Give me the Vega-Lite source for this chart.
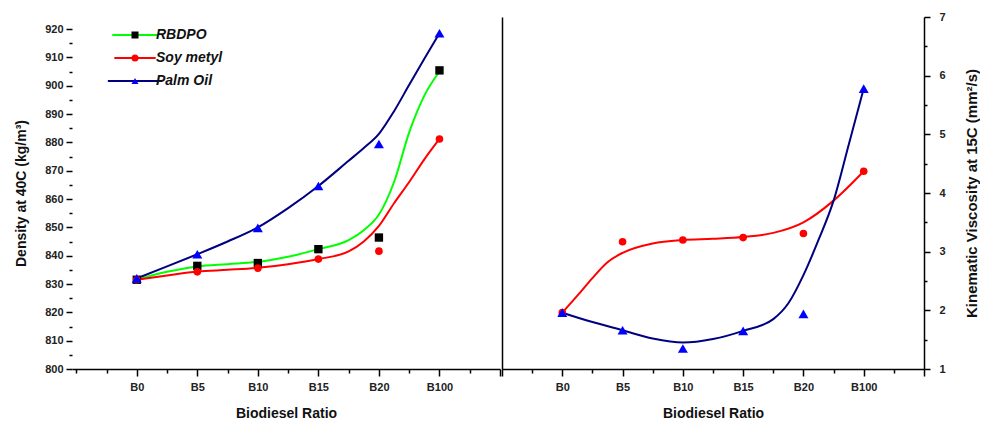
{
  "$schema": "https://vega.github.io/schema/vega-lite/v6.json",
  "background": "white",
  "padding": {"left": 14, "top": 11, "right": 0, "bottom": 0},
  "spacing": 0,
  "config": {
    "view": {"stroke": null, "fill": null},
    "axis": {
      "grid": false,
      "domainColor": "#000",
      "domainWidth": 1.5,
      "tickColor": "#000",
      "tickWidth": 1.5,
      "labelFont": "Liberation Sans",
      "labelFontWeight": "bold",
      "labelFontSize": 11,
      "labelColor": "#222",
      "labelOverlap": false,
      "titleFont": "Liberation Sans",
      "titleFontWeight": "bold",
      "titleFontSize": 14,
      "titleColor": "#111"
    }
  },
  "resolve": {"scale": {"stroke": "independent", "fill": "independent", "shape": "independent", "size": "independent"}},
  "datasets": {
    "densityFit": [
      {"series": "RBDPO", "idx": 1, "value": 831.5},
      {"series": "RBDPO", "idx": 1.5, "value": 834.3},
      {"series": "RBDPO", "idx": 2, "value": 836.2},
      {"series": "RBDPO", "idx": 2.5, "value": 837},
      {"series": "RBDPO", "idx": 3, "value": 837.8},
      {"series": "RBDPO", "idx": 3.5, "value": 839.6},
      {"series": "RBDPO", "idx": 4, "value": 842.3},
      {"series": "RBDPO", "idx": 4.5, "value": 845.5},
      {"series": "RBDPO", "idx": 4.75, "value": 849},
      {"series": "RBDPO", "idx": 5, "value": 854.5},
      {"series": "RBDPO", "idx": 5.25, "value": 866},
      {"series": "RBDPO", "idx": 5.5, "value": 883.5},
      {"series": "RBDPO", "idx": 5.75, "value": 896.5},
      {"series": "RBDPO", "idx": 6, "value": 905},
      {"series": "Soy metyl", "idx": 1, "value": 831.5},
      {"series": "Soy metyl", "idx": 1.5, "value": 833},
      {"series": "Soy metyl", "idx": 2, "value": 834.4},
      {"series": "Soy metyl", "idx": 2.5, "value": 835},
      {"series": "Soy metyl", "idx": 3, "value": 835.7},
      {"series": "Soy metyl", "idx": 3.5, "value": 837},
      {"series": "Soy metyl", "idx": 4, "value": 838.8},
      {"series": "Soy metyl", "idx": 4.5, "value": 841.5},
      {"series": "Soy metyl", "idx": 4.75, "value": 845},
      {"series": "Soy metyl", "idx": 5, "value": 850.5},
      {"series": "Soy metyl", "idx": 5.25, "value": 858.5},
      {"series": "Soy metyl", "idx": 5.5, "value": 866},
      {"series": "Soy metyl", "idx": 5.75, "value": 874},
      {"series": "Soy metyl", "idx": 6, "value": 881.2},
      {"series": "Palm Oil", "idx": 1, "value": 832},
      {"series": "Palm Oil", "idx": 1.5, "value": 836.2},
      {"series": "Palm Oil", "idx": 2, "value": 840.5},
      {"series": "Palm Oil", "idx": 2.5, "value": 845},
      {"series": "Palm Oil", "idx": 3, "value": 850},
      {"series": "Palm Oil", "idx": 3.5, "value": 856.8},
      {"series": "Palm Oil", "idx": 4, "value": 864.6},
      {"series": "Palm Oil", "idx": 4.5, "value": 873.5},
      {"series": "Palm Oil", "idx": 4.75, "value": 878},
      {"series": "Palm Oil", "idx": 5, "value": 883},
      {"series": "Palm Oil", "idx": 5.25, "value": 891},
      {"series": "Palm Oil", "idx": 5.5, "value": 900.3},
      {"series": "Palm Oil", "idx": 5.75, "value": 909.5},
      {"series": "Palm Oil", "idx": 6, "value": 918.5}
    ],
    "densityPts": [
      {"series": "RBDPO", "ratio": "B0", "idx": 1, "value": 831.5},
      {"series": "RBDPO", "ratio": "B5", "idx": 2, "value": 836.4},
      {"series": "RBDPO", "ratio": "B10", "idx": 3, "value": 837.4},
      {"series": "RBDPO", "ratio": "B15", "idx": 4, "value": 842.3},
      {"series": "RBDPO", "ratio": "B20", "idx": 5, "value": 846.4},
      {"series": "RBDPO", "ratio": "B100", "idx": 6, "value": 905.4},
      {"series": "Soy metyl", "ratio": "B0", "idx": 1, "value": 831.5},
      {"series": "Soy metyl", "ratio": "B5", "idx": 2, "value": 834.3},
      {"series": "Soy metyl", "ratio": "B10", "idx": 3, "value": 835.6},
      {"series": "Soy metyl", "ratio": "B15", "idx": 4, "value": 838.8},
      {"series": "Soy metyl", "ratio": "B20", "idx": 5, "value": 841.6},
      {"series": "Soy metyl", "ratio": "B100", "idx": 6, "value": 881.2},
      {"series": "Palm Oil", "ratio": "B0", "idx": 1, "value": 832},
      {"series": "Palm Oil", "ratio": "B5", "idx": 2, "value": 840.5},
      {"series": "Palm Oil", "ratio": "B10", "idx": 3, "value": 849.8},
      {"series": "Palm Oil", "ratio": "B15", "idx": 4, "value": 864.6},
      {"series": "Palm Oil", "ratio": "B20", "idx": 5, "value": 879.4},
      {"series": "Palm Oil", "ratio": "B100", "idx": 6, "value": 918.5}
    ],
    "viscFit": [
      {"series": "Soy metyl", "idx": 1, "value": 1.96},
      {"series": "Soy metyl", "idx": 1.25, "value": 2.25},
      {"series": "Soy metyl", "idx": 1.5, "value": 2.55},
      {"series": "Soy metyl", "idx": 1.75, "value": 2.82},
      {"series": "Soy metyl", "idx": 2, "value": 2.98},
      {"series": "Soy metyl", "idx": 2.5, "value": 3.14},
      {"series": "Soy metyl", "idx": 3, "value": 3.2},
      {"series": "Soy metyl", "idx": 3.5, "value": 3.22},
      {"series": "Soy metyl", "idx": 4, "value": 3.25},
      {"series": "Soy metyl", "idx": 4.5, "value": 3.32},
      {"series": "Soy metyl", "idx": 5, "value": 3.5},
      {"series": "Soy metyl", "idx": 5.5, "value": 3.87},
      {"series": "Soy metyl", "idx": 6, "value": 4.37},
      {"series": "Palm Oil", "idx": 1, "value": 1.96},
      {"series": "Palm Oil", "idx": 1.5, "value": 1.8},
      {"series": "Palm Oil", "idx": 2, "value": 1.66},
      {"series": "Palm Oil", "idx": 2.5, "value": 1.52},
      {"series": "Palm Oil", "idx": 3, "value": 1.45},
      {"series": "Palm Oil", "idx": 3.5, "value": 1.51},
      {"series": "Palm Oil", "idx": 4, "value": 1.65},
      {"series": "Palm Oil", "idx": 4.5, "value": 1.85},
      {"series": "Palm Oil", "idx": 4.75, "value": 2.12},
      {"series": "Palm Oil", "idx": 5, "value": 2.6},
      {"series": "Palm Oil", "idx": 5.25, "value": 3.2},
      {"series": "Palm Oil", "idx": 5.5, "value": 3.87},
      {"series": "Palm Oil", "idx": 5.75, "value": 4.82},
      {"series": "Palm Oil", "idx": 6, "value": 5.78}
    ],
    "viscPts": [
      {"series": "Soy metyl", "ratio": "B0", "idx": 1, "value": 1.96},
      {"series": "Soy metyl", "ratio": "B5", "idx": 2, "value": 3.17},
      {"series": "Soy metyl", "ratio": "B10", "idx": 3, "value": 3.2},
      {"series": "Soy metyl", "ratio": "B15", "idx": 4, "value": 3.24},
      {"series": "Soy metyl", "ratio": "B20", "idx": 5, "value": 3.31},
      {"series": "Soy metyl", "ratio": "B100", "idx": 6, "value": 4.37},
      {"series": "Palm Oil", "ratio": "B0", "idx": 1, "value": 1.96},
      {"series": "Palm Oil", "ratio": "B5", "idx": 2, "value": 1.66},
      {"series": "Palm Oil", "ratio": "B10", "idx": 3, "value": 1.35},
      {"series": "Palm Oil", "ratio": "B15", "idx": 4, "value": 1.65},
      {"series": "Palm Oil", "ratio": "B20", "idx": 5, "value": 1.94},
      {"series": "Palm Oil", "ratio": "B100", "idx": 6, "value": 5.78}
    ]
  },
  "hconcat": [
    {
      "width": 428,
      "height": 352,
      "encoding": {
        "x": {
          "field": "idx", "type": "quantitative",
          "scale": {"domain": [-0.07, 7], "nice": false, "zero": false},
          "axis": {
            "title": "Biodiesel Ratio",
            "values": [0, 0.5, 1, 1.5, 2, 2.5, 3, 3.5, 4, 4.5, 5, 5.5, 6, 6.5, 7],
            "labelExpr": "datum.value == 1 ? 'B0' : datum.value == 2 ? 'B5' : datum.value == 3 ? 'B10' : datum.value == 4 ? 'B15' : datum.value == 5 ? 'B20' : datum.value == 6 ? 'B100' : ''",
            "tickSize": {"condition": {"test": "datum.value % 1 == 0 && datum.value > 0", "value": 7}, "value": 4},
            "labelPadding": 5,
            "titlePadding": 14.5
          }
        },
        "y": {
          "field": "value", "type": "quantitative",
          "scale": {"domain": [800, 924.24], "nice": false, "zero": false},
          "axis": {
            "title": "Density at 40C (kg/m³)",
            "domain": false,
            "values": [800, 805, 810, 815, 820, 825, 830, 835, 840, 845, 850, 855, 860, 865, 870, 875, 880, 885, 890, 895, 900, 905, 910, 915, 920],
            "labelExpr": "datum.value % 10 == 0 ? datum.label : ''",
            "tickSize": {"condition": {"test": "datum.value % 10 == 0", "value": 6}, "value": 3},
            "labelPadding": 3,
            "titlePadding": 16
          }
        }
      },
      "layer": [
        {
          "data": {"values": [{"line": "left axis"}]},
          "mark": {"type": "rule", "color": "#000", "strokeWidth": 1.5},
          "encoding": {
            "x": {"datum": -0.07, "type": "quantitative"},
            "y": {"datum": 800, "type": "quantitative"},
            "y2": {"datum": 920}
          }
        },
        {
          "data": {"name": "densityFit"},
          "mark": {"type": "line", "interpolate": "monotone", "strokeWidth": 2},
          "encoding": {
            "stroke": {
              "field": "series", "type": "nominal",
              "scale": {"domain": ["RBDPO", "Soy metyl", "Palm Oil"], "range": ["#00ff00", "#ff0000", "#000080"]},
              "legend": {
                "orient": "none", "legendX": 56, "legendY": 11, "title": null,
                "symbolType": "M-5.43,0H5.43", "symbolSize": 49, "symbolStrokeWidth": 2,
                "labelOpacity": 0, "labelFontSize": 14, "labelFont": "Liberation Sans",
                "labelFontWeight": "bold", "labelFontStyle": "italic",
                "labelOffset": 14, "rowPadding": 9, "padding": 0
              }
            }
          }
        },
        {
          "data": {"name": "densityPts"},
          "mark": {"type": "point", "filled": true, "opacity": 1},
          "encoding": {
            "fill": {
              "field": "series", "type": "nominal", "sort": null,
              "scale": {"range": ["#000000", "#ff0000", "#0000ff"]},
              "legend": {
                "orient": "none", "legendX": 56, "legendY": 11, "title": null,
                "symbolSize": 49, "symbolStrokeWidth": 0,
                "labelFontSize": 14, "labelFont": "Liberation Sans", "labelColor": "#111",
                "labelFontWeight": "bold", "labelFontStyle": "italic",
                "labelOffset": 14, "rowPadding": 9, "padding": 0
              }
            },
            "shape": {
              "field": "series", "type": "nominal", "sort": null,
              "scale": {"range": ["square", "circle", "triangle-up"]},
              "legend": {
                "orient": "none", "legendX": 56, "legendY": 11, "title": null,
                "symbolSize": 49, "symbolStrokeWidth": 0,
                "labelFontSize": 14, "labelFont": "Liberation Sans", "labelColor": "#111",
                "labelFontWeight": "bold", "labelFontStyle": "italic",
                "labelOffset": 14, "rowPadding": 9, "padding": 0
              }
            },
            "size": {
              "field": "series", "type": "nominal",
              "scale": {"type": "ordinal", "domain": ["RBDPO", "Soy metyl", "Palm Oil"], "range": [70, 58, 100]},
              "legend": null
            }
          }
        }
      ]
    },
    {
      "width": 422,
      "height": 352,
      "resolve": {"axis": {"y": "independent"}},
      "encoding": {
        "x": {
          "field": "idx", "type": "quantitative",
          "scale": {"domain": [0, 7], "nice": false, "zero": false},
          "axis": {
            "title": "Biodiesel Ratio",
            "values": [0, 0.5, 1, 1.5, 2, 2.5, 3, 3.5, 4, 4.5, 5, 5.5, 6, 6.5, 7],
            "labelExpr": "datum.value == 1 ? 'B0' : datum.value == 2 ? 'B5' : datum.value == 3 ? 'B10' : datum.value == 4 ? 'B15' : datum.value == 5 ? 'B20' : datum.value == 6 ? 'B100' : ''",
            "tickSize": {"condition": {"test": "datum.value % 1 == 0", "value": 7}, "value": 4},
            "labelPadding": 5,
            "titlePadding": 14.5
          }
        }
      },
      "layer": [
        {
          "data": {"name": "viscFit"},
          "mark": {"type": "line", "interpolate": "monotone", "strokeWidth": 2},
          "encoding": {
            "y": {
              "field": "value", "type": "quantitative",
              "scale": {"domain": [1, 7], "nice": false, "zero": false},
              "axis": {
                "orient": "right",
                "title": "Kinematic Viscosity at 15C (mm²/s)",
                "titleAngle": -90,
                "titleBaseline": "top",
                "titleFontSize": 15,
                "values": [1, 1.5, 2, 2.5, 3, 3.5, 4, 4.5, 5, 5.5, 6, 6.5, 7],
                "labelExpr": "datum.value % 1 == 0 ? format(datum.value, 'd') : ''",
                "tickSize": {"condition": {"test": "datum.value % 1 == 0", "value": 6}, "value": 3},
                "labelPadding": 9,
                "titlePadding": 19
              }
            },
            "stroke": {
              "field": "series", "type": "nominal",
              "scale": {"domain": ["Soy metyl", "Palm Oil"], "range": ["#ff0000", "#000080"]},
              "legend": null
            }
          }
        },
        {
          "data": {"name": "viscPts"},
          "mark": {"type": "point", "filled": true, "opacity": 1},
          "encoding": {
            "y": {
              "field": "value", "type": "quantitative",
              "axis": {"orient": "left", "labels": false, "ticks": false, "title": null, "domain": true}
            },
            "fill": {
              "field": "series", "type": "nominal",
              "scale": {"domain": ["Soy metyl", "Palm Oil"], "range": ["#ff0000", "#0000ff"]},
              "legend": null
            },
            "shape": {
              "field": "series", "type": "nominal",
              "scale": {"domain": ["Soy metyl", "Palm Oil"], "range": ["circle", "triangle-up"]},
              "legend": null
            },
            "size": {
              "field": "series", "type": "nominal",
              "scale": {"type": "ordinal", "domain": ["Soy metyl", "Palm Oil"], "range": [58, 100]},
              "legend": null
            }
          }
        }
      ]
    }
  ]
}
